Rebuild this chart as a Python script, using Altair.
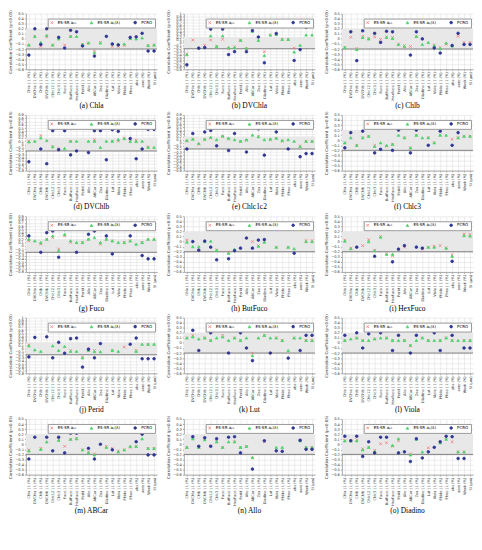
import altair as alt
import pandas as pd

N = None
categories = ["Chla | 1 (%)", "DVChla | 1 (%)", "Chlb | 1 (%)", "DVChlb | 1 (%)",
              "Chlc12 | 1 (%)", "Chlc3 | 1 (%)", "Fuco | 1 (%)", "ButFuco | 1 (%)",
              "HexFuco | 1 (%)", "Perid | 1 (%)", "Allo | 1 (%)", "ABCar | 1 (%)",
              "Zea | 1 (%)", "Diadino | 1 (%)", "Lut | 1 (%)", "Viola | 1 (%)",
              "Phide | 1 (%)", "Pheo | 1 (%)", "abs (%)", "aero (%)", "Week (%)", "SI (μm)"]
series_names = ["ES-SR aₚₕ", "ES-SR aₚ(λ)", "PCRO"]

chla_es1 = [-0.13, 0.05, -0.15, 0.04, -0.12, N, -0.12, 0.05, N, -0.11, -0.08, -0.24, -0.07, N, -0.15, -0.15, -0.13, 0.0, N, N, -0.13, -0.12]
chla_es2 = [-0.12, 0.05, -0.07, 0.07, -0.12, 0.0, N, 0.05, 0.05, -0.11, -0.08, -0.27, -0.08, N, -0.1, -0.1, -0.1, 0.01, 0.0, 0.02, -0.13, -0.12]
chla_pcro = [-0.32, 0.2, -0.11, 0.2, N, 0.03, -0.18, 0.17, 0.14, -0.14, N, -0.34, N, 0.05, -0.1, -0.12, N, 0.03, 0.04, 0.11, -0.24, -0.24]

dvchla_es1 = [-0.38, 0.1, N, -0.08, 0.1, -0.12, 0.12, -0.2, -0.13, 0.09, -0.2, N, N, -0.3, 0.27, 0.29, 0.12, 0.12, -0.18, N, 0.52, 0.54]
dvchla_es2 = [-0.4, N, N, N, 0.24, -0.12, 0.24, -0.16, -0.16, 0.09, -0.18, 0.4, 0.09, -0.43, 0.27, 0.29, 0.12, 0.12, -0.31, -0.08, 0.27, 0.27]
dvchla_pcro = [-0.75, N, -0.18, -0.16, 0.47, N, 0.47, -0.4, -0.3, N, -0.3, 0.42, 0.2, -0.68, N, 0.32, N, N, -0.6, -0.23, 0.54, N]

chlb_es1 = [-0.17, 0.03, -0.19, 0.05, 0.01, 0.04, -0.01, 0.04, 0.03, -0.1, -0.13, -0.15, 0.04, N, N, -0.12, -0.17, -0.11, N, 0.05, -0.07, -0.07]
chlb_es2 = [-0.17, N, -0.21, 0.03, 0.0, N, N, 0.03, 0.01, -0.11, -0.15, N, 0.05, -0.11, -0.07, -0.13, -0.19, -0.08, -0.14, N, N, N]
chlb_pcro = [N, 0.14, -0.43, 0.16, N, 0.11, -0.07, 0.15, 0.14, N, N, -0.32, 0.14, 0.0, N, -0.18, -0.28, N, -0.13, 0.11, -0.11, -0.11]

dvchlb_es1 = [0.1, N, 0.27, N, -0.07, -0.14, N, 0.1, N, N, N, 0.15, N, N, 0.1, 0.1, 0.2, 0.15, 0.13, N, -0.07, N]
dvchlb_es2 = [0.08, 0.1, 0.2, 0.12, -0.07, N, -0.12, 0.1, 0.1, N, 0.1, 0.1, -0.09, 0.1, 0.1, 0.15, 0.18, 0.09, 0.09, 0.1, -0.09, -0.09]
dvchlb_pcro = [-0.53, N, -0.14, -0.59, 0.42, -0.16, 0.42, -0.32, -0.2, N, -0.25, 0.42, 0.42, -0.47, 0.45, 0.4, N, 0.18, -0.44, -0.14, 0.46, 0.46]

chlc12_es1 = [0.05, 0.12, -0.05, 0.1, 0.15, N, 0.2, 0.12, N, 0.05, 0.08, N, 0.2, N, 0.1, 0.15, 0.05, N, N, -0.1, 0.05, 0.05]
chlc12_es2 = [0.08, 0.12, -0.02, 0.12, 0.18, 0.1, 0.22, 0.15, 0.1, 0.05, 0.1, 0.25, 0.2, 0.1, 0.12, 0.15, 0.08, 0.1, 0.05, -0.12, 0.05, 0.05]
chlc12_pcro = [-0.2, 0.3, N, 0.35, 0.4, -0.1, 0.5, -0.25, 0.3, N, -0.3, 0.5, 0.45, -0.4, N, 0.35, N, -0.2, N, -0.45, -0.35, -0.35]

chlc3_es1 = [-0.05, N, -0.1, 0.05, 0.08, -0.1, N, -0.12, -0.08, N, 0.05, -0.15, 0.1, N, 0.05, -0.05, 0.1, N, 0.02, 0.05, 0.08, 0.08]
chlc3_es2 = [-0.05, 0.05, -0.1, 0.05, 0.08, -0.12, -0.05, -0.1, -0.08, 0.1, 0.05, -0.15, 0.1, 0.05, 0.05, -0.05, 0.1, 0.1, N, 0.05, 0.08, 0.08]
chlc3_pcro = [-0.15, 0.15, N, 0.18, N, -0.25, -0.18, N, -0.2, 0.2, N, -0.25, 0.2, N, -0.1, N, 0.18, N, -0.1, 0.15, N, N]

fuco_es1 = [0.15, N, 0.05, 0.2, 0.25, -0.1, 0.3, 0.1, N, 0.1, 0.2, N, 0.05, 0.2, 0.15, N, 0.1, 0.15, N, 0.1, 0.2, 0.2]
fuco_es2 = [0.2, 0.15, 0.1, 0.2, 0.3, -0.15, 0.35, 0.15, 0.1, 0.1, 0.2, 0.25, 0.1, 0.2, 0.15, 0.1, 0.1, 0.15, 0.05, 0.1, 0.2, 0.2]
fuco_pcro = [0.3, N, -0.2, 0.4, 0.45, -0.35, 0.5, N, -0.2, N, 0.35, 0.45, N, 0.3, -0.25, N, N, 0.3, N, -0.3, -0.4, -0.4]

butfuco_es1 = [0.03, N, N, N, N, -0.16, N, -0.21, N, N, N, 0.0, -0.08, 0.0, N, -0.11, N, -0.11, N, N, 0.02, 0.02]
butfuco_es2 = [-0.01, -0.1, -0.1, 0.0, 0.01, -0.17, N, -0.23, -0.15, N, N, N, -0.09, -0.01, N, -0.11, N, -0.11, -0.14, N, 0.0, 0.0]
butfuco_pcro = [N, 0.0, -0.17, 0.01, -0.11, -0.36, N, -0.34, -0.18, -0.13, 0.07, -0.13, 0.03, 0.04, N, N, N, N, -0.23, N, N, N]

hexfuco_es1 = [0.03, -0.13, N, -0.08, 0.04, -0.17, 0.1, -0.24, -0.28, N, -0.11, N, N, -0.15, -0.11, -0.09, -0.08, -0.12, -0.26, N, 0.15, 0.14]
hexfuco_es2 = [0.01, -0.14, N, N, 0.0, -0.18, 0.09, -0.25, -0.25, N, N, N, N, N, -0.11, -0.11, N, -0.13, -0.29, N, 0.12, 0.11]
hexfuco_pcro = [N, N, -0.11, N, N, -0.29, N, N, -0.4, -0.15, -0.08, N, -0.11, -0.13, N, N, N, N, -0.39, N, N, N]

perid_es1 = [0.12, N, N, N, N, N, N, -0.06, N, -0.28, -0.04, -0.06, N, N, -0.06, N, 0.05, N, -0.06, N, 0.14, N]
perid_es2 = [0.09, -0.04, -0.09, N, 0.09, -0.06, 0.07, -0.09, -0.09, -0.3, -0.06, -0.1, -0.1, N, -0.06, -0.09, N, N, -0.09, 0.14, 0.14, 0.14]
perid_pcro = [-0.27, 0.36, N, 0.38, -0.3, 0.2, -0.15, 0.32, 0.34, -0.6, -0.02, -0.3, 0.16, N, N, N, N, 0.14, 0.34, -0.33, -0.33, -0.33]

lut_es1 = [0.1, 0.15, N, 0.1, 0.05, N, 0.15, N, 0.1, 0.05, N, -0.2, N, 0.15, N, 0.1, 0.05, N, 0.1, N, 0.05, 0.05]
lut_es2 = [0.1, 0.12, 0.08, 0.1, 0.05, 0.1, 0.12, 0.05, 0.1, 0.05, 0.1, -0.25, 0.1, 0.15, 0.1, 0.1, 0.05, -0.15, 0.1, 0.1, 0.05, 0.05]
lut_pcro = [N, 0.25, -0.15, N, 0.2, N, 0.3, -0.2, N, 0.2, -0.1, -0.35, N, 0.25, -0.2, N, N, -0.3, N, -0.15, 0.15, 0.15]

viola_es1 = [0.05, N, 0.1, 0.05, N, 0.08, N, 0.1, 0.05, N, 0.05, -0.05, N, 0.1, 0.05, N, 0.05, 0.1, 0.05, N, 0.05, 0.05]
viola_es2 = [0.05, 0.08, 0.1, 0.05, 0.05, 0.08, 0.1, 0.1, 0.05, 0.05, 0.05, -0.05, 0.05, 0.1, 0.05, 0.05, 0.05, 0.1, 0.05, 0.05, 0.05, 0.05]
viola_pcro = [0.15, N, 0.2, -0.1, 0.18, N, 0.2, N, -0.15, 0.15, N, -0.2, 0.15, N, N, 0.2, -0.15, N, 0.15, N, -0.1, -0.1]

abcar_es1 = [-0.11, N, -0.08, N, N, 0.09, -0.04, 0.1, 0.12, -0.11, -0.15, -0.19, N, -0.04, -0.08, -0.13, -0.11, -0.06, -0.04, N, -0.08, -0.08]
abcar_es2 = [-0.13, N, -0.1, 0.05, N, 0.08, N, 0.1, 0.11, -0.11, -0.17, -0.21, N, -0.06, N, -0.15, -0.11, -0.04, -0.04, 0.11, -0.08, -0.08]
abcar_pcro = [-0.29, 0.14, N, 0.14, -0.13, 0.14, -0.17, 0.22, 0.22, N, -0.08, -0.29, 0.0, N, -0.11, N, N, N, 0.05, 0.2, -0.21, -0.21]

allo_es1 = [-0.06, 0.14, -0.06, 0.11, -0.03, 0.05, -0.06, N, 0.05, -0.06, -0.04, -0.27, N, 0.05, N, N, N, N, N, 0.07, -0.06, -0.06]
allo_es2 = [-0.06, 0.11, -0.06, 0.09, N, 0.05, -0.06, 0.05, 0.05, -0.06, -0.04, -0.26, N, N, N, -0.06, -0.06, N, N, 0.07, -0.06, -0.06]
allo_pcro = [N, 0.15, -0.04, 0.13, -0.04, 0.11, N, 0.14, 0.15, -0.17, N, -0.49, N, 0.07, N, -0.13, -0.14, N, N, 0.08, -0.1, -0.1]

diadino_es1 = [0.07, 0.07, 0.09, -0.09, -0.06, -0.12, 0.01, 0.03, -0.04, 0.07, N, -0.19, N, N, -0.07, N, 0.03, 0.13, 0.05, -0.15, -0.15, N]
diadino_es2 = [0.07, 0.07, 0.07, -0.11, -0.06, -0.14, N, N, -0.02, 0.11, N, -0.21, 0.1, -0.15, N, N, 0.03, 0.1, N, -0.15, -0.15, N]
diadino_pcro = [0.16, 0.07, 0.16, -0.24, 0.05, -0.17, 0.14, 0.14, N, -0.17, -0.15, -0.34, 0.11, -0.27, -0.15, -0.06, 0.05, 0.16, 0.15, -0.28, -0.28, N]

panel_titles = ["(a) Chla", "(b) DVChla", "(c) Chlb", "(d) DVChlb", "(e) Chlc1c2", "(f) Chlc3",
                "(g) Fuco", "(h) ButFuco", "(i) HexFuco", "(j) Perid", "(k) Lut", "(l) Viola",
                "(m) ABCar", "(n) Allo", "(o) Diadino"]
panel_series = [
    (chla_es1, chla_es2, chla_pcro), (dvchla_es1, dvchla_es2, dvchla_pcro), (chlb_es1, chlb_es2, chlb_pcro),
    (dvchlb_es1, dvchlb_es2, dvchlb_pcro), (chlc12_es1, chlc12_es2, chlc12_pcro), (chlc3_es1, chlc3_es2, chlc3_pcro),
    (fuco_es1, fuco_es2, fuco_pcro), (butfuco_es1, butfuco_es2, butfuco_pcro), (hexfuco_es1, hexfuco_es2, hexfuco_pcro),
    (perid_es1, perid_es2, perid_pcro), (lut_es1, lut_es2, lut_pcro), (viola_es1, viola_es2, viola_pcro),
    (abcar_es1, abcar_es2, abcar_pcro), (allo_es1, allo_es2, allo_pcro), (diadino_es1, diadino_es2, diadino_pcro)]
y_min = [-0.6, -0.9, -0.6, -0.8, -0.9, -0.6, -0.8, -0.6, -0.6, -0.8, -0.6, -0.6, -0.6, -0.6, -0.6]
y_max = [0.5, 1.0, 0.5, 0.9, 0.9, 0.5, 0.9, 0.5, 0.5, 1.0, 0.5, 0.5, 0.5, 0.5, 0.5]

W, H = 132, 56
colors = ["#f07878", "#4fd26e", "#2f3590"]
shapes = ["M-1,-1L1,1M-1,1L1,-1", "triangle-up", "circle"]
sizes = [7, 7, 4]


def panel(title, series, lo, hi):
    rows = []
    for name, vals in zip(series_names, series):
        for c, v in zip(categories, vals):
            if v is not None:
                rows.append({"cat": c, "series": name, "r": v})
    df = pd.DataFrame(rows)
    ticks = [round(lo + 0.1 * i, 1) for i in range(int(round((hi - lo) / 0.1)) + 1)]
    yscale = alt.Scale(domain=[lo, hi], nice=False, zero=False)
    yaxis = alt.Axis(title="Correlation Coefficient (p<0.05)", values=ticks, format=".1~f",
                     grid=True, labelOverlap=False, labelFontSize=3.6)
    band = alt.Chart(pd.DataFrame({"r": [-0.2], "r2": [0.2]})).mark_rect(color="#e8e8e8").encode(
        x=alt.value(0), x2=alt.value(W),
        y=alt.Y("r:Q", scale=yscale, axis=yaxis), y2="r2:Q")
    rule = alt.Chart(pd.DataFrame({"r": [-0.2]})).mark_rule(color="#666", strokeWidth=0.8).encode(
        y=alt.Y("r:Q", scale=yscale, axis=yaxis))
    pts = alt.Chart(df).mark_point(strokeWidth=0.8, opacity=1, filled=True).encode(
        x=alt.X("cat:N", sort=categories, scale=alt.Scale(domain=categories),
                axis=alt.Axis(title=None, labelAngle=-90, grid=True, labelFontSize=3.6)),
        y=alt.Y("r:Q", scale=yscale, axis=yaxis),
        color=alt.Color("series:N", scale=alt.Scale(domain=series_names, range=colors),
                        legend=alt.Legend(title=None, orient="none", legendX=22, legendY=5,
                                          direction="horizontal", fillColor="white", strokeColor="#999",
                                          padding=2, labelFontSize=4, symbolSize=8, columnPadding=12,
                                          labelLimit=60, symbolStrokeWidth=0.8)),
        shape=alt.Shape("series:N", scale=alt.Scale(domain=series_names, range=shapes)),
        stroke=alt.Stroke("series:N", scale=alt.Scale(domain=series_names, range=colors), legend=None),
        size=alt.Size("series:N", scale=alt.Scale(domain=series_names, range=sizes), legend=None),
    )
    return alt.layer(band, rule, pts).properties(
        width=W, height=H,
        title=alt.TitleParams(title, orient="bottom", fontSize=7.5, font="Liberation Serif",
                              fontWeight="normal", offset=2))


charts = [panel(t, s, lo, hi) for t, s, lo, hi in zip(panel_titles, panel_series, y_min, y_max)]
rows = [alt.hconcat(*charts[i:i + 3], spacing=8).resolve_legend(color="independent", shape="independent",
                                                                    stroke="independent", size="independent")
        .resolve_scale(y="independent") for i in range(0, 15, 3)]
chart = alt.vconcat(*rows, spacing=1).resolve_legend(
    color="independent", shape="independent", stroke="independent", size="independent").configure_axis(
    labelFontSize=4, titleFontSize=4, titleFontWeight="normal", tickSize=1.5, labelPadding=1,
    titlePadding=2, gridColor="#dadada", domainColor="#aaa", tickColor="#aaa", gridWidth=0.5,
    labelFont="DejaVu Sans", titleFont="DejaVu Sans", labelColor="#333", titleColor="#333"
).configure_view(stroke=None).configure_legend(labelFont="DejaVu Sans").properties(padding=0)

chart.save("out.html", embed_options={"renderer": "svg", "actions": False})
